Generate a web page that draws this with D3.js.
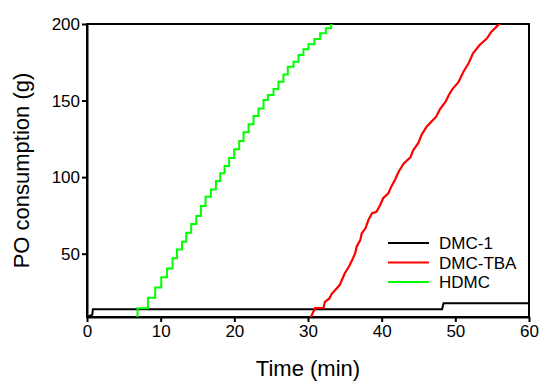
<!DOCTYPE html>
<html>
<head>
<meta charset="utf-8">
<script src="https://cdn.jsdelivr.net/npm/d3@7"></script>
<style>
  body { margin: 0; background: #fff; }
  text { font-family: Arial, "Liberation Sans", sans-serif; }
</style>
</head>
<body>
<div id="chart"></div>
<script>
// series: [time (min), PO consumption (g)]
const dmc1 = [[0, 8.7], [0.5, 9.6], [0.72, 10.2], [0.8, 13.8], [48.2, 13.8], [48.4, 17.6], [60, 17.6]];

const dmcTba = [[30.4, 8.7], [30.95, 14.5], [32.1, 14.6], [32.3, 18.6], [32.9, 20.8], [33.2, 23.6], [33.7, 26.3],
  [34.3, 29.5], [34.6, 32.8], [35.0, 37.2], [35.6, 42.0], [36.0, 45.9], [36.4, 50.2], [36.6, 54.6],
  [37.1, 58.9], [37.3, 63.3], [37.8, 66.6], [38.2, 72.0], [38.7, 76.4], [39.3, 77.4], [39.8, 81.8],
  [40.2, 86.2], [40.9, 89.4], [41.3, 93.7], [41.8, 98.1], [42.3, 103.5], [43.0, 109.0], [43.9, 112.9],
  [44.3, 117.7], [45.0, 122.5], [45.4, 127.5], [46.1, 132.9], [46.8, 136.5], [47.4, 139.5], [47.9, 144.2],
  [48.7, 149.5], [49.1, 153.5], [49.6, 157.5], [50.4, 161.8], [51.1, 168.8], [51.8, 174.3], [52.4, 180.9],
  [53.3, 186.3], [54.3, 190.7], [54.9, 195.0], [55.6, 198.3], [56.2, 201]];

// staircase: each point is where a step starts
const hdmc = [[6.78, 8.7], [6.86, 14.3], [8.27, 21.2], [9.26, 28.0], [10.08, 34.6], [10.85, 40.4], [11.61, 47.0],
  [12.21, 52.8], [12.89, 57.8], [13.47, 63.7], [14.15, 69.4], [14.83, 74.6], [15.46, 81.1], [16.09, 87.2],
  [16.82, 92.0], [17.5, 97.5], [18.08, 102.5], [18.67, 107.2], [19.3, 112.5], [19.98, 118.2], [20.66, 123.6],
  [21.25, 129.3], [21.93, 134.5], [22.6, 139.9], [23.28, 144.9], [23.96, 150.4], [24.55, 153.6], [25.32, 157.5],
  [25.99, 162.3], [26.67, 167.1], [27.26, 172.1], [28.03, 175.4], [28.7, 179.8], [29.38, 183.5], [30.06, 186.7],
  [30.87, 190.2], [31.65, 193.9], [32.42, 197.2], [33.14, 200.4], [33.5, 200.4]];

const xTicks = [0, 10, 20, 30, 40, 50, 60];
const yTicks = [50, 100, 150, 200];
const seriesNames = ["DMC-1", "DMC-TBA", "HDMC"];
const seriesColors = ["#000000", "#ff0000", "#00ff00"];

const margin = { top: 24, right: 21, bottom: 68, left: 87 };
const width = 550 - margin.left - margin.right;
const height = 385 - margin.top - margin.bottom;

const svg = d3.select("#chart").append("svg")
  .attr("width", 550)
  .attr("height", 385)
  .append("g")
  .attr("transform", `translate(${margin.left},${margin.top})`);

const x = d3.scaleLinear().domain([0, 60]).range([0, width]);
const y = d3.scaleLinear().domain([8.66, 200]).range([height, 0]);

svg.append("clipPath").attr("id", "clip")
  .append("rect").attr("width", width).attr("height", height);

// frame
svg.append("rect")
  .attr("width", width)
  .attr("height", height)
  .attr("fill", "none")
  .attr("stroke", "#000")
  .attr("stroke-width", 2);

const xAxis = svg.append("g")
  .attr("transform", `translate(0,${height})`)
  .call(d3.axisBottom(x).tickValues(xTicks).tickSize(5).tickPadding(3).tickSizeOuter(0));

const yAxis = svg.append("g")
  .call(d3.axisLeft(y).tickValues(yTicks).tickSize(5).tickPadding(2).tickSizeOuter(0));

[xAxis, yAxis].forEach(ax => {
  ax.select(".domain").attr("stroke-width", 2);
  ax.selectAll(".tick line").attr("stroke-width", 2);
  ax.selectAll(".tick text")
    .attr("font-size", 17)
    .attr("fill", "#000")
    .style("font-family", "Arial, 'Liberation Sans', sans-serif");
});

const line = d3.line().x(d => x(d[0])).y(d => y(d[1]));
const stepLine = d3.line().x(d => x(d[0])).y(d => y(d[1])).curve(d3.curveStepAfter);

const plot = svg.append("g").attr("clip-path", "url(#clip)");

plot.append("path").datum(dmc1)
  .attr("d", line).attr("fill", "none")
  .attr("stroke", seriesColors[0]).attr("stroke-width", 2);

plot.append("path").datum(dmcTba)
  .attr("d", line).attr("fill", "none")
  .attr("stroke", seriesColors[1]).attr("stroke-width", 2.2);

plot.append("path").datum(hdmc)
  .attr("d", stepLine).attr("fill", "none")
  .attr("stroke", seriesColors[2]).attr("stroke-width", 2);

// legend
const legend = svg.append("g").attr("transform", `translate(${388 - margin.left},${243 - margin.top})`);
seriesNames.forEach((name, i) => {
  const g = legend.append("g").attr("transform", `translate(0,${i * 19.5})`);
  g.append("line").attr("x1", 0).attr("x2", 41)
    .attr("stroke", seriesColors[i]).attr("stroke-width", 2);
  g.append("text").attr("x", 51).attr("dy", "0.36em")
    .attr("font-size", 17).text(name);
});

// axis titles
svg.append("text")
  .attr("x", width / 2)
  .attr("y", height + 59)
  .attr("text-anchor", "middle")
  .attr("font-size", 22)
  .text("Time (min)");

svg.append("text")
  .attr("transform", `translate(${29 - margin.left},${height / 2}) rotate(-90)`)
  .attr("text-anchor", "middle")
  .attr("font-size", 22)
  .text("PO consumption (g)");
</script>
</body>
</html>
